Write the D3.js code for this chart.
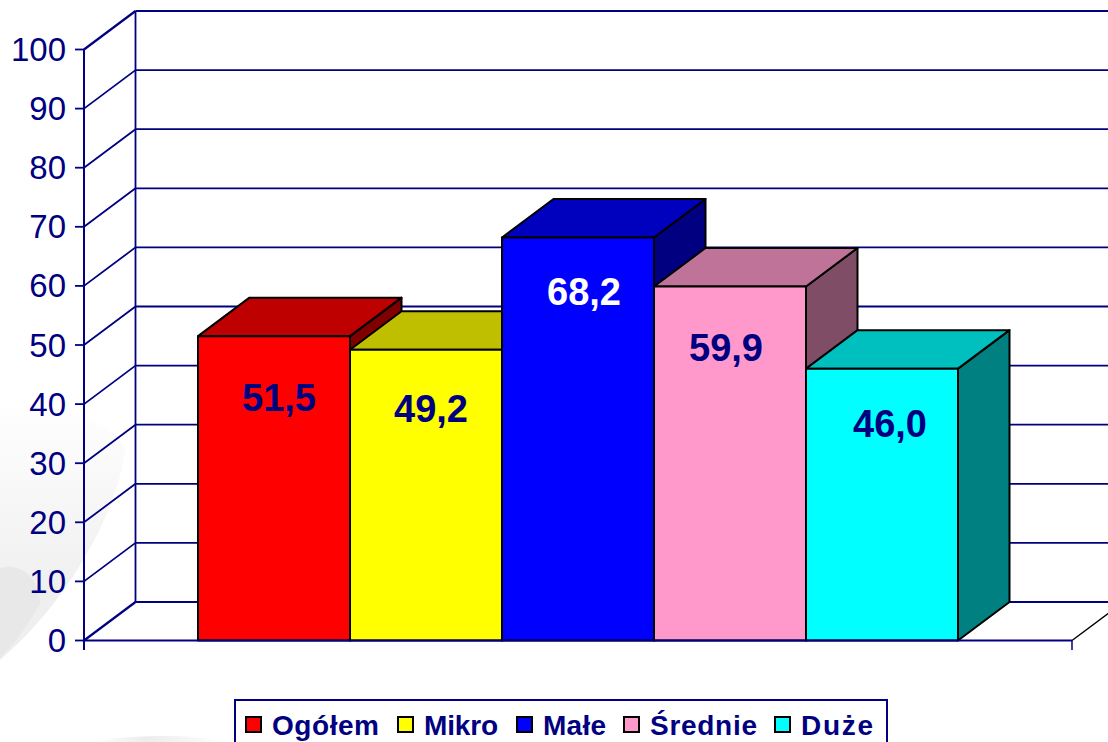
<!DOCTYPE html>
<html><head><meta charset="utf-8">
<script src="https://cdn.jsdelivr.net/npm/d3@7"></script>
<style>html,body{margin:0;padding:0;background:#fff}svg{display:block}</style></head>
<body><svg id="c" width="1108" height="742"></svg>
<script>
const categories = ["Ogółem","Mikro","Małe","Średnie","Duże"];
const values = [51.5,49.2,68.2,59.9,46.0];
const valueLabels = ["51,5","49,2","68,2","59,9","46,0"];
const frontColors = ["#ff0000","#ffff00","#0000ff","#ff99cc","#00ffff"];
const topColors = ["#bf0000","#bfbf00","#0000bf","#bf7399","#00bfbf"];
const sideColors = ["#800000","#808000","#000080","#804d66","#008080"];
const labelColors = ["#000080","#000080","#ffffff","#000080","#000080"];
const yTicks = [0,10,20,30,40,50,60,70,80,90,100];
const labelShiftX = [5,5,6,-4,8];
const labelShiftY = [75,72,68,75,68];
const legendTextWidths = [107,74,63,107,72];
const navy = "#000080";
const svg = d3.select("#c");
const y = d3.scaleLinear().domain([0,100]).range([640.5,49.5]);
const x = d3.scaleBand().domain(categories).range([198,958]);
const dx = 51.5, dy = -38.5;
const x0 = 84, x1 = 1072;

// faint background swooshes
const defs = svg.append("defs");
const g1 = defs.append("linearGradient").attr("id","sw").attr("x1",0.3).attr("y1",0).attr("x2",0.3).attr("y2",1);
g1.append("stop").attr("offset",0).attr("stop-color","#fff");
g1.append("stop").attr("offset",0.75).attr("stop-color","#efefef");
const g2 = defs.append("linearGradient").attr("id","sw2").attr("x1",0).attr("y1",0).attr("x2",1).attr("y2",0);
g2.append("stop").attr("offset",0).attr("stop-color","#fff");
g2.append("stop").attr("offset",0.4).attr("stop-color","#ececec");
g2.append("stop").attr("offset",1).attr("stop-color","#fff");
const bg = svg.append("g");
bg.append("path").attr("fill","url(#sw)").attr("d","M0,400 C70,400 115,425 125,450 C118,510 70,600 0,660 Z");
bg.append("path").attr("fill","#e8e8e8").attr("d","M0,568 C22,562 40,580 40,604 C28,625 14,645 0,658 Z");
bg.append("path").attr("fill","url(#sw2)").attr("d","M92,742 C125,735 190,733 225,742 Z");

// walls
const grid = svg.append("g").attr("stroke",navy).attr("fill","none");
yTicks.forEach(t=>{
  const w = t===0||t===100?2.2:1.8;
  grid.append("line").attr("x1",x0).attr("y1",y(t)).attr("x2",x0+dx).attr("y2",y(t)+dy).attr("stroke-width",w);
  grid.append("line").attr("x1",x0+dx).attr("y1",y(t)+dy).attr("x2",1108).attr("y2",y(t)+dy).attr("stroke-width",w);
});
grid.append("line").attr("x1",x0+dx).attr("y1",y(0)+dy).attr("x2",x0+dx).attr("y2",y(100)+dy).attr("stroke-width",1.8);

// bars
const bars = svg.append("g").attr("stroke","#000").attr("stroke-width",2).attr("stroke-linejoin","round");
categories.forEach((c,i)=>{
  const l = x(c), r = l+x.bandwidth(), t = y(values[i]), b = y(0);
  bars.append("path").attr("fill",sideColors[i]).attr("d",`M${r},${t}L${r+dx},${t+dy}L${r+dx},${b+dy}L${r},${b}Z`);
  bars.append("path").attr("fill",topColors[i]).attr("d",`M${l},${t}L${l+dx},${t+dy}L${r+dx},${t+dy}L${r},${t}Z`);
  bars.append("rect").attr("x",l).attr("y",t).attr("width",x.bandwidth()).attr("height",b-t).attr("fill",frontColors[i]);
});

// axes
const ax = svg.append("g").attr("stroke",navy);
ax.append("line").attr("x1",x0).attr("y1",y(100)).attr("x2",x0).attr("y2",650).attr("stroke-width",2);
ax.append("line").attr("x1",x0).attr("y1",y(0)).attr("x2",x1).attr("y2",y(0)).attr("stroke-width",2.2);
ax.append("line").attr("x1",x1).attr("y1",y(0)).attr("x2",x1).attr("y2",650).attr("stroke-width",1.5);
ax.selectAll("line.t").data(yTicks).join("line").attr("class","t").attr("x1",x0-9).attr("x2",x0).attr("y1",d=>y(d)).attr("y2",d=>y(d)).attr("stroke-width",1.8);
svg.append("line").attr("x1",x1).attr("y1",y(0)).attr("x2",x1+dx).attr("y2",y(0)+dy).attr("stroke","#000").attr("stroke-width",1.5);

const font = "'Liberation Sans',Arial,sans-serif";
svg.append("g").selectAll("text").data(yTicks).join("text")
  .attr("x",66).attr("y",d=>y(d)+11.5).attr("text-anchor","end")
  .attr("font-family",font).attr("font-size",33).attr("fill",navy).text(d=>d);

svg.append("g").selectAll("text").data(categories).join("text")
  .attr("x",(d,i)=>x(d)+x.bandwidth()/2+labelShiftX[i]).attr("y",(d,i)=>y(values[i])+labelShiftY[i])
  .attr("text-anchor","middle").attr("font-family",font).attr("font-size",38).attr("font-weight","bold")
  .attr("fill",(d,i)=>labelColors[i]).text((d,i)=>valueLabels[i]);

// legend
const lg = svg.append("g");
lg.append("rect").attr("x",235).attr("y",700).attr("width",652).attr("height",50).attr("fill","#fff").attr("stroke",navy).attr("stroke-width",2);
const swatchX = [246,398,517,624,775];
categories.forEach((c,i)=>{
  lg.append("rect").attr("x",swatchX[i]).attr("y",717).attr("width",15).attr("height",15).attr("fill",frontColors[i]).attr("stroke","#000").attr("stroke-width",2);
  lg.append("text").attr("x",swatchX[i]+26).attr("y",735).attr("font-family",font).attr("font-size",28).attr("font-weight","bold")
    .attr("textLength",legendTextWidths[i]).attr("lengthAdjust","spacing").attr("fill",navy).text(c);
});
</script></body></html>
